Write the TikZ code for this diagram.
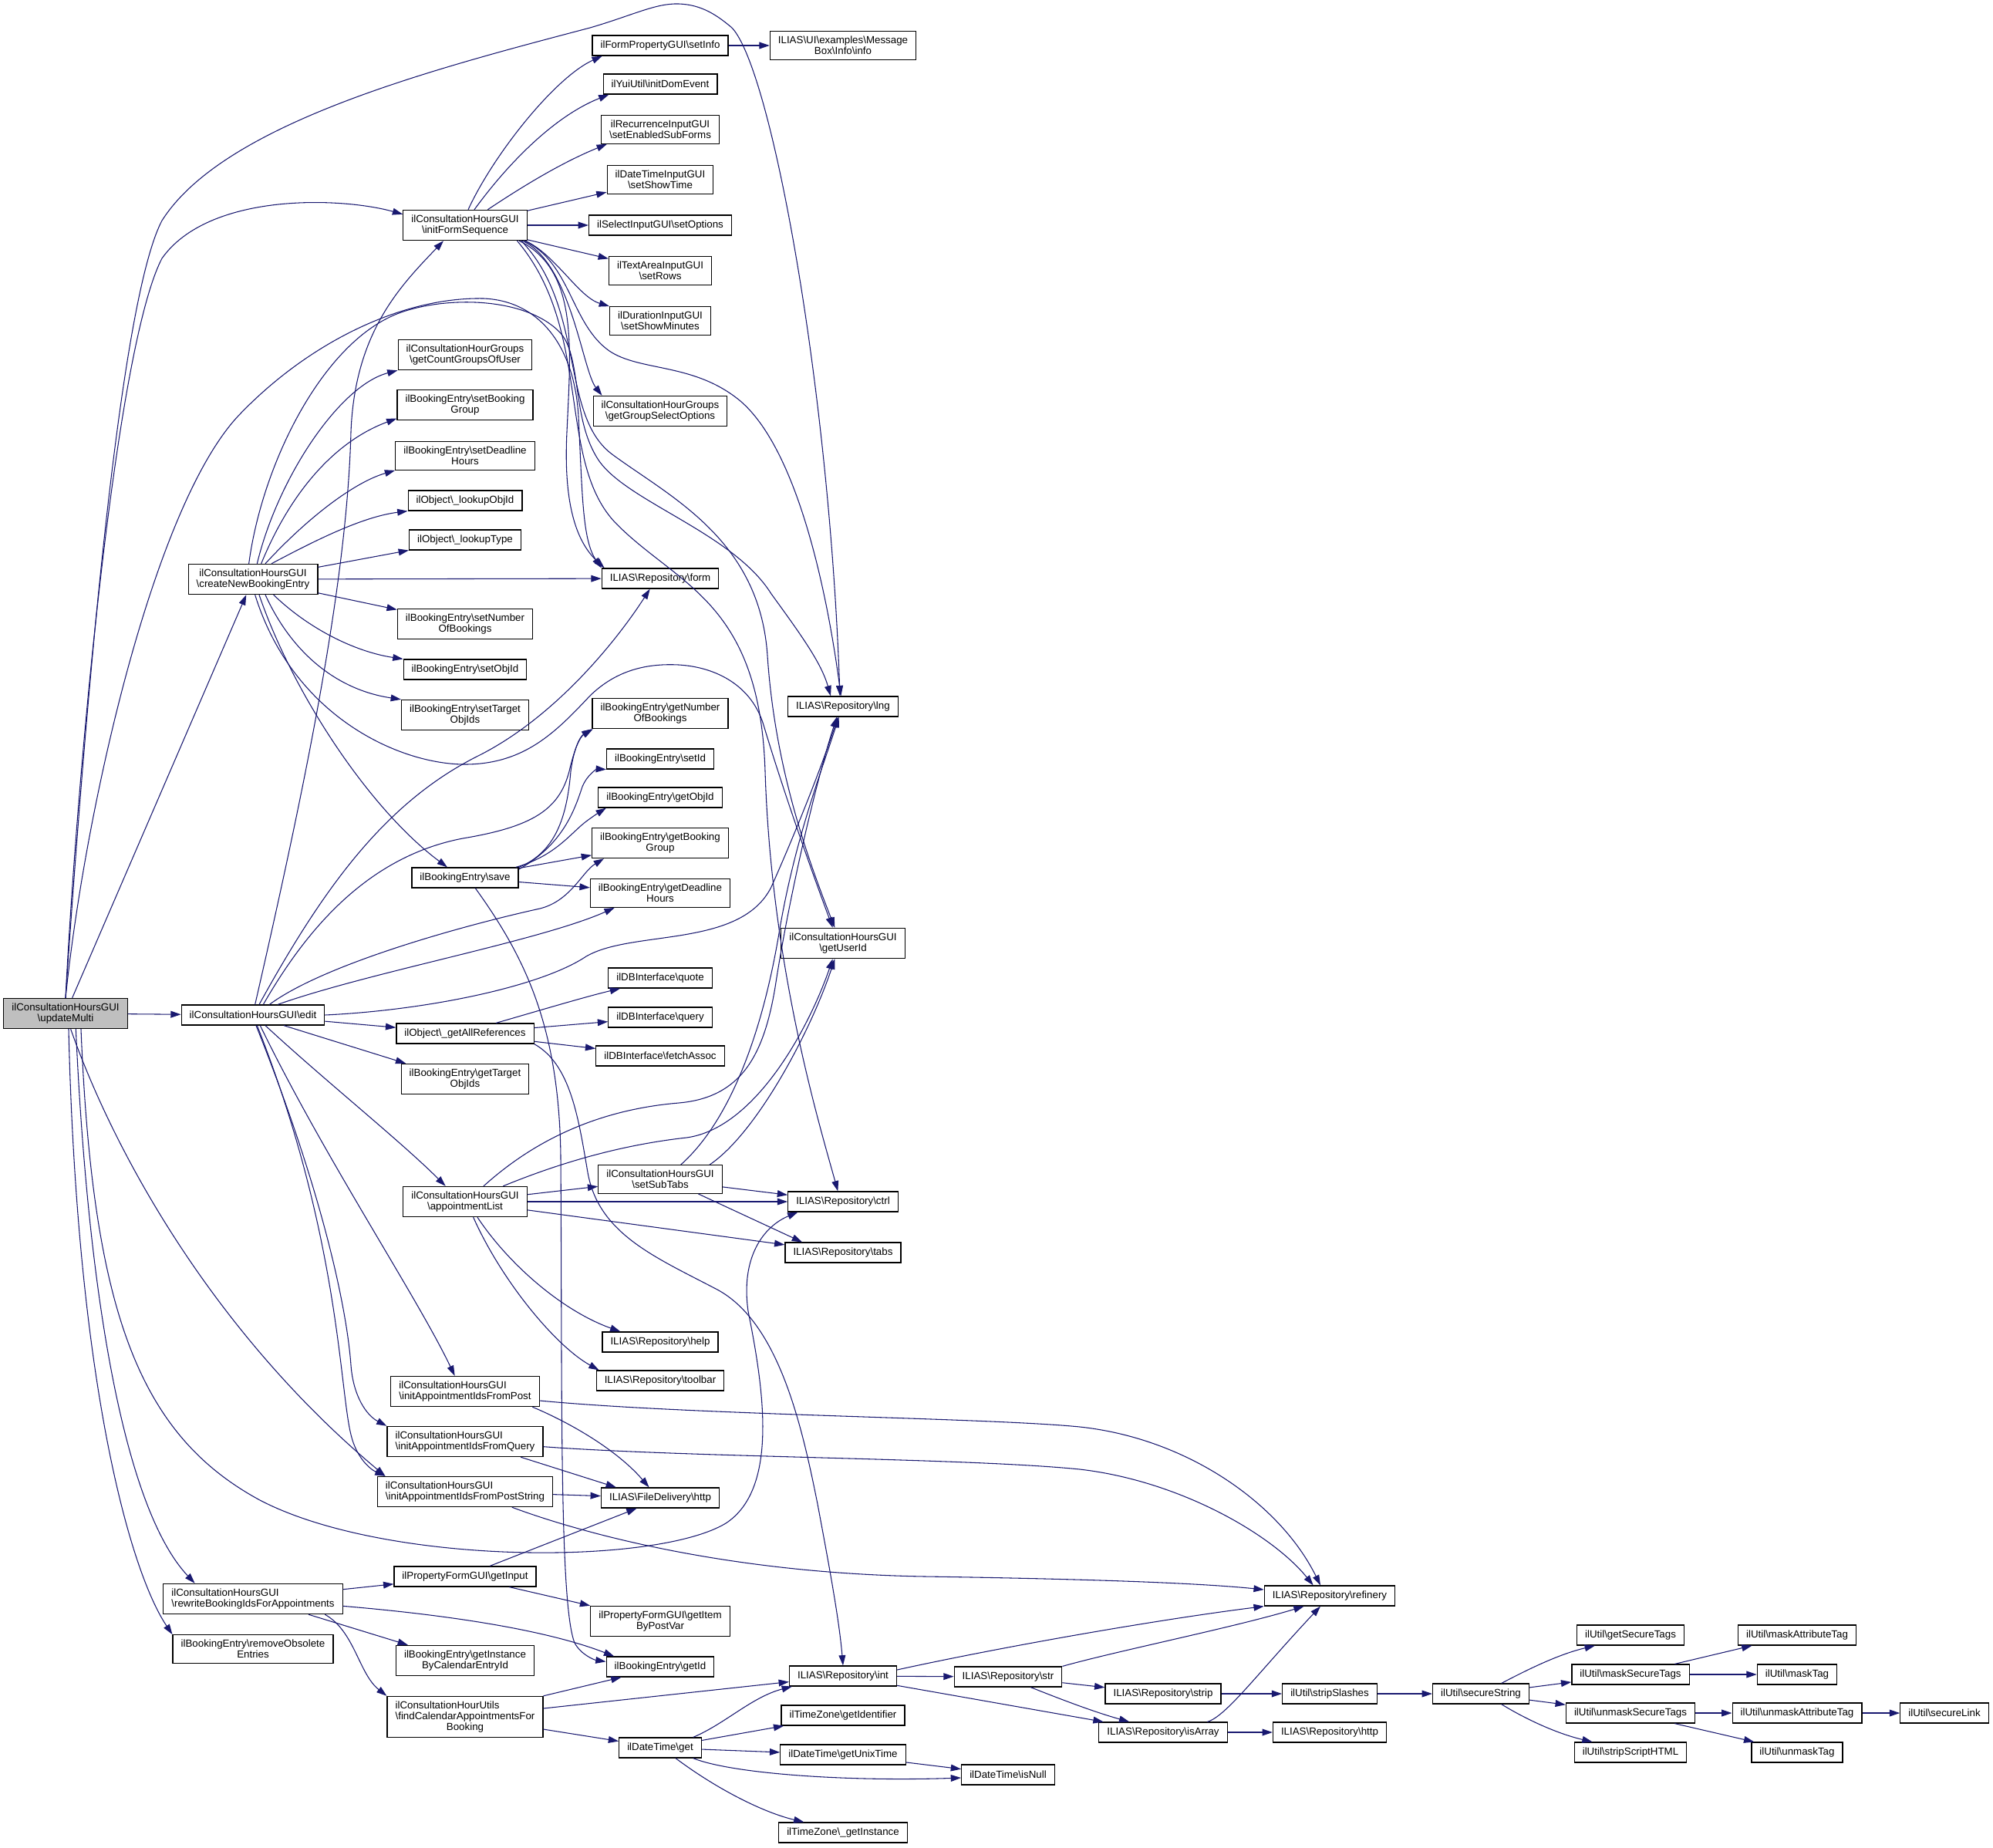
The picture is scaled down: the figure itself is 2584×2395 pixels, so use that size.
\documentclass[tikz,border=0pt]{standalone}
\usepackage{fontspec}
\setmainfont{Liberation Sans}
\usetikzlibrary{arrows.meta}
\definecolor{midnightblue}{RGB}{25,25,112}
\definecolor{grey75}{RGB}{191,191,191}
\newcommand{\bksl}{\textbackslash}
\tikzset{
  fn/.style={draw=black, line width=0.9pt, fill=white, font=\fontsize{10}{10.5}\selectfont,
    inner xsep=7.9pt, inner ysep=4.8pt, minimum height=19.5pt, align=center},
  fnl/.style={fn, align=left},
  call/.style={draw=midnightblue, line width=0.8pt, -{Triangle[length=10pt,width=6.6pt]}}
}
\begin{document}
\begin{tikzpicture}[x=0.75pt, y=-0.75pt]
    \useasboundingbox (0,0) rectangle (2584,2395);
    \node[fn, fill=grey75] (updateMulti) at (85,1314) {ilConsultationHoursGUI\\\bksl updateMulti};
    \node[fn] (createNew) at (328,751) {ilConsultationHoursGUI\\\bksl createNewBookingEntry};
    \node[fn] (edit) at (328,1316) {ilConsultationHoursGUI\bksl edit};
    \node[fnl] (rewrite) at (328,2073) {ilConsultationHoursGUI\\\bksl rewriteBookingIdsForAppointments};
    \node[fn] (removeObs) at (328,2138) {ilBookingEntry\bksl removeObsolete\\Entries};
    \node[fn] (initForm) at (603,292) {ilConsultationHoursGUI\\\bksl initFormSequence};
    \node[fn] (countGroups) at (603,460) {ilConsultationHourGroups\\\bksl getCountGroupsOfUser};
    \node[fn] (setBookGroup) at (603,525) {ilBookingEntry\bksl setBooking\\Group};
    \node[fn] (setDeadline) at (603,591) {ilBookingEntry\bksl setDeadline\\Hours};
    \node[fn] (lookupObjId) at (603,649) {ilObject\bksl\_lookupObjId};
    \node[fn] (lookupType) at (603,700) {ilObject\bksl\_lookupType};
    \node[fn] (setNumBook) at (603,809) {ilBookingEntry\bksl setNumber\\OfBookings};
    \node[fn] (setObjId) at (603,868) {ilBookingEntry\bksl setObjId};
    \node[fn] (setTarget) at (603,927) {ilBookingEntry\bksl setTarget\\ObjIds};
    \node[fn] (save) at (603,1138) {ilBookingEntry\bksl save};
    \node[fn] (getAllRefs) at (603,1340) {ilObject\bksl\_getAllReferences};
    \node[fn] (getTarget) at (603,1399) {ilBookingEntry\bksl getTarget\\ObjIds};
    \node[fn] (apptList) at (603,1558) {ilConsultationHoursGUI\\\bksl appointmentList};
    \node[fnl] (idsPost) at (603,1804) {ilConsultationHoursGUI\\\bksl initAppointmentIdsFromPost};
    \node[fnl] (idsQuery) at (603,1869) {ilConsultationHoursGUI\\\bksl initAppointmentIdsFromQuery};
    \node[fnl] (idsPostStr) at (603,1934) {ilConsultationHoursGUI\\\bksl initAppointmentIdsFromPostString};
    \node[fn] (getInput) at (603,2044) {ilPropertyFormGUI\bksl getInput};
    \node[fn] (getInstance) at (603,2153) {ilBookingEntry\bksl getInstance\\ByCalendarEntryId};
    \node[fn] (findAppts) at (603,2226) {\rlap{ilConsultationHourUtils}\phantom{\bksl findCalendarAppointmentsFor}\\\bksl findCalendarAppointmentsFor\\Booking};
    \node[fn] (setInfo) at (856,59) {ilFormPropertyGUI\bksl setInfo};
    \node[fn] (initDom) at (856,109) {ilYuiUtil\bksl initDomEvent};
    \node[fn] (setEnabled) at (856,168) {ilRecurrenceInputGUI\\\bksl setEnabledSubForms};
    \node[fn] (setShowTime) at (856,233) {ilDateTimeInputGUI\\\bksl setShowTime};
    \node[fn] (setOptions) at (856,292) {ilSelectInputGUI\bksl setOptions};
    \node[fn] (setRows) at (856,351) {ilTextAreaInputGUI\\\bksl setRows};
    \node[fn] (setShowMin) at (856,416) {ilDurationInputGUI\\\bksl setShowMinutes};
    \node[fn] (groupOptions) at (856,533) {ilConsultationHourGroups\\\bksl getGroupSelectOptions};
    \node[fn] (form) at (856,750) {ILIAS\bksl Repository\bksl form};
    \node[fn] (getNumBook) at (856,925) {ilBookingEntry\bksl getNumber\\OfBookings};
    \node[fn] (setId) at (856,984) {ilBookingEntry\bksl setId};
    \node[fn] (getObjId) at (856,1034) {ilBookingEntry\bksl getObjId};
    \node[fn] (getBookGroup) at (856,1093) {ilBookingEntry\bksl getBooking\\Group};
    \node[fn] (getDeadline) at (856,1158) {ilBookingEntry\bksl getDeadline\\Hours};
    \node[fn] (dbQuote) at (856,1268) {ilDBInterface\bksl quote};
    \node[fn] (dbQuery) at (856,1319) {ilDBInterface\bksl query};
    \node[fn] (dbFetch) at (856,1369) {ilDBInterface\bksl fetchAssoc};
    \node[fn] (setSubTabs) at (856,1529) {ilConsultationHoursGUI\\\bksl setSubTabs};
    \node[fn] (help) at (856,1740) {ILIAS\bksl Repository\bksl help};
    \node[fn] (toolbar) at (856,1790) {ILIAS\bksl Repository\bksl toolbar};
    \node[fn] (fdHttp) at (856,1942) {ILIAS\bksl FileDelivery\bksl http};
    \node[fn] (getItem) at (856,2102) {ilPropertyFormGUI\bksl getItem\\ByPostVar};
    \node[fn] (getId) at (856,2161) {ilBookingEntry\bksl getId};
    \node[fn] (dtGet) at (856,2266) {ilDateTime\bksl get};
    \node[fn] (msgInfo) at (1093,59) {ILIAS\bksl UI\bksl examples\bksl Message\\Box\bksl Info\bksl info};
    \node[fn] (lng) at (1093,916) {ILIAS\bksl Repository\bksl lng};
    \node[fn] (getUserId) at (1093,1223) {ilConsultationHoursGUI\\\bksl getUserId};
    \node[fn] (ctrl) at (1093,1558) {ILIAS\bksl Repository\bksl ctrl};
    \node[fn] (tabs) at (1093,1624) {ILIAS\bksl Repository\bksl tabs};
    \node[fn] (repInt) at (1093,2173) {ILIAS\bksl Repository\bksl int};
    \node[fn] (tzIdent) at (1093,2224) {ilTimeZone\bksl getIdentifier};
    \node[fn] (unixTime) at (1093,2275) {ilDateTime\bksl getUnixTime};
    \node[fn] (tzInstance) at (1093,2376) {ilTimeZone\bksl\_getInstance};
    \node[fn] (repStr) at (1307,2174) {ILIAS\bksl Repository\bksl str};
    \node[fn] (isNull) at (1307,2301) {ilDateTime\bksl isNull};
    \node[fn] (strip) at (1508,2196) {ILIAS\bksl Repository\bksl strip};
    \node[fn] (isArray) at (1508,2246) {ILIAS\bksl Repository\bksl isArray};
    \node[fn] (refinery) at (1724,2069) {ILIAS\bksl Repository\bksl refinery};
    \node[fn] (stripSlashes) at (1724,2196) {ilUtil\bksl stripSlashes};
    \node[fn] (repHttp) at (1724,2246) {ILIAS\bksl Repository\bksl http};
    \node[fn] (secureString) at (1920,2196) {ilUtil\bksl secureString};
    \node[fn] (getSecTags) at (2114,2120) {ilUtil\bksl getSecureTags};
    \node[fn] (maskSecTags) at (2114,2171) {ilUtil\bksl maskSecureTags};
    \node[fn] (unmaskSecTags) at (2114,2221) {ilUtil\bksl unmaskSecureTags};
    \node[fn] (stripScript) at (2114,2272) {ilUtil\bksl stripScriptHTML};
    \node[fn] (maskAttr) at (2330,2120) {ilUtil\bksl maskAttributeTag};
    \node[fn] (maskTag) at (2330,2171) {ilUtil\bksl maskTag};
    \node[fn] (unmaskAttr) at (2330,2221) {ilUtil\bksl unmaskAttributeTag};
    \node[fn] (unmaskTag) at (2330,2272) {ilUtil\bksl unmaskTag};
    \node[fn] (secureLink) at (2521,2221) {ilUtil\bksl secureLink};

    \draw[call] (updateMulti.north) .. controls (100,1000) and (150,450) .. (210,335) .. controls (270,250) and (440,255) .. (initForm.170);
    \draw[call] (updateMulti.north) .. controls (105,1000) and (150,400) .. (210,286) .. controls (290,160) and (560,90) .. (765,36) .. controls (820,20) and (850,4) .. (880,5) .. controls (910,6) and (930,20) .. (949,36) .. controls (1000,90) and (1075,500) .. ([xshift=-3pt]lng.north);
    \draw[call] (updateMulti) -- (createNew);
    \draw[call] (updateMulti) -- (edit);
    \draw[call] (updateMulti.north) .. controls (110,1050) and (200,650) .. (312,536) .. controls (400,445) and (520,385) .. (627,387) .. controls (700,390) and (745,450) .. (750,540) .. controls (755,640) and (755,700) .. (form.north west);
    \draw[call] ([xshift=5pt]updateMulti.south) .. controls (150,1500) and (280,1730) .. ([xshift=8pt]idsPostStr.north west);
    \draw[call] ([xshift=10pt]updateMulti.south) .. controls (115,1700) and (165,1960) .. ([xshift=31pt]rewrite.north west);
    \draw[call] ([xshift=3pt]updateMulti.south) .. controls (100,1800) and (170,2040) .. (removeObs.north west);
    \draw[call] ([xshift=15pt]updateMulti.south) .. controls (120,1700) and (180,1860) .. (337,1945) .. controls (500,2030) and (850,2030) .. (941,1975) .. controls (1010,1930) and (990,1800) .. (970,1700) .. controls (960,1630) and (990,1590) .. ([xshift=10pt]ctrl.south west);

    \draw[call] ([xshift=4pt]createNew.north) .. controls (360,620) and (440,500) .. (countGroups.south west);
    \draw[call] ([xshift=8pt]createNew.north) .. controls (380,630) and (440,570) .. ([yshift=2pt]setBookGroup.south west);
    \draw[call] ([xshift=12pt]createNew.north) .. controls (400,670) and (460,625) .. (setDeadline.south west);
    \draw[call] ([xshift=18pt]createNew.north) .. controls (410,700) and (470,670) .. (lookupObjId.south west);
    \draw[call] (createNew) -- (lookupType);
    \draw[call] (createNew) -- (form);
    \draw[call] (createNew) -- (setNumBook);
    \draw[call] ([xshift=20pt]createNew.south) .. controls (400,815) and (460,845) .. (setObjId.north west);
    \draw[call] ([xshift=12pt]createNew.south) .. controls (380,850) and (440,895) .. (setTarget.north west);
    \draw[call] ([xshift=6pt]createNew.south) .. controls (380,900) and (480,1050) .. ([xshift=35pt]save.north west);
    \draw[call] ([xshift=2pt]createNew.south) .. controls (380,930) and (520,992) .. (605,991) .. controls (680,990) and (720,950) .. (765,902) .. controls (800,868) and (840,860) .. (880,862) .. controls (930,865) and (975,890) .. (990,940) .. controls (1020,1040) and (1060,1150) .. ([xshift=-10pt]getUserId.north);
    \draw[call] ([xshift=-4pt]createNew.north) .. controls (340,600) and (420,440) .. (520,405) .. controls (580,384) and (680,385) .. (725,430) .. controls (755,460) and (740,540) .. (775,595) .. controls (810,650) and (950,690) .. (1000,770) .. controls (1040,825) and (1065,860) .. ([xshift=-12pt]lng.north);

    \draw[call] ([xshift=3pt]initForm.north) .. controls (640,200) and (720,100) .. ([xshift=10pt]setInfo.south west);
    \draw[call] ([xshift=9pt]initForm.north) .. controls (660,210) and (720,150) .. ([xshift=6pt]initDom.south west);
    \draw[call] ([xshift=22pt]initForm.north) .. controls (680,240) and (730,210) .. ([xshift=6pt]setEnabled.south west);
    \draw[call] (initForm) -- (setShowTime);
    \draw[call] (initForm) -- (setOptions);
    \draw[call] (initForm) -- (setRows);
    \draw[call] ([xshift=-2pt]initForm.south east) .. controls (720,330) and (750,385) .. (setShowMin.north west);
    \draw[call] ([xshift=-5pt]initForm.south east) .. controls (740,340) and (755,480) .. ([xshift=9pt]groupOptions.north west);
    \draw[call] ([xshift=-8pt]initForm.south east) .. controls (750,350) and (740,450) .. (735,560) .. controls (730,660) and (750,705) .. ([xshift=3pt]form.north west);
    \draw[call] ([xshift=-3pt]initForm.south east) .. controls (740,340) and (740,420) .. (790,455) .. controls (830,482) and (900,470) .. (960,520) .. controls (1030,580) and (1070,750) .. ([xshift=-2pt]lng.north);
    \draw[call] ([xshift=-6pt]initForm.south east) .. controls (760,400) and (725,540) .. (795,590) .. controls (870,645) and (985,700) .. (995,850) .. controls (1005,1000) and (1050,1120) .. ([xshift=-8pt]getUserId.north);
    \draw[call] ([xshift=-10pt]initForm.south east) .. controls (770,430) and (720,600) .. (800,680) .. controls (880,760) and (985,780) .. (992,1000) .. controls (1000,1250) and (1060,1450) .. ([xshift=-5pt]ctrl.north);

    \draw[call] ([xshift=2pt]edit.north) .. controls (400,1000) and (450,750) .. (455,560) .. controls (460,430) and (520,370) .. ([xshift=-21pt]initForm.south);
    \draw[call] ([xshift=6pt]edit.north) .. controls (420,1150) and (500,1040) .. (620,980) .. controls (720,930) and (800,830) .. ([xshift=-10pt]form.south);
    \draw[call] ([xshift=10pt]edit.north) .. controls (400,1200) and (480,1110) .. (600,1087) .. controls (690,1072) and (725,1050) .. (738,1000) .. controls (745,970) and (752,955) .. ([xshift=1pt]getNumBook.south west);
    \draw[call] ([xshift=16pt]edit.north) .. controls (420,1250) and (600,1200) .. (700,1178) .. controls (740,1168) and (755,1130) .. ([xshift=12pt]getBookGroup.south west);
    \draw[call] ([xshift=24pt]edit.north) .. controls (480,1260) and (700,1220) .. ([xshift=24pt]getDeadline.south west);
    \draw[call] (edit.east) .. controls (550,1310) and (700,1280) .. (760,1240) .. controls (820,1205) and (960,1230) .. (1000,1150) .. controls (1040,1060) and (1070,980) .. ([xshift=-5pt]lng.south);
    \draw[call] (edit) -- (getAllRefs);
    \draw[call] ([xshift=30pt]edit.south) -- ([xshift=5pt]getTarget.north west);
    \draw[call] ([xshift=12pt]edit.south) .. controls (420,1400) and (520,1480) .. ([xshift=-19pt]apptList.north);
    \draw[call] ([xshift=7pt]edit.south) .. controls (420,1500) and (540,1680) .. ([xshift=-10pt]idsPost.north);
    \draw[call] ([xshift=3pt]edit.south) .. controls (420,1550) and (450,1700) .. (455,1770) .. controls (458,1810) and (475,1835) .. (idsQuery.north west);
    \draw[call] ([xshift=4pt]edit.south) .. controls (440,1600) and (440,1800) .. (455,1860) .. controls (462,1890) and (480,1905) .. ([xshift=8pt]idsPostStr.north west);

    \draw[call] (save.north east) .. controls (720,1105) and (735,1060) .. (740,1000) .. controls (744,970) and (752,955) .. (getNumBook.south west);
    \draw[call] ([yshift=-2pt]save.north east) .. controls (730,1095) and (745,1050) .. (755,1020) .. controls (762,1003) and (775,997) .. (setId.south west);
    \draw[call] ([xshift=-3pt]save.north east) .. controls (720,1110) and (740,1080) .. (760,1065) .. controls (772,1056) and (782,1050) .. ([xshift=8pt]getObjId.south west);
    \draw[call] (save) -- (getBookGroup);
    \draw[call] (save) -- (getDeadline);
    \draw[call] ([xshift=10pt]save.south) .. controls (680,1240) and (725,1330) .. (727,1500) .. controls (729,1800) and (725,2080) .. (745,2130) .. controls (753,2145) and (770,2152) .. ([yshift=5pt]getId.west);

    \draw[call] ([xshift=30pt]getAllRefs.north) .. controls (700,1310) and (760,1292) .. ([xshift=12pt]dbQuote.south west);
    \draw[call] (getAllRefs) -- (dbQuery);
    \draw[call] (getAllRefs) -- (dbFetch);
    \draw[call] (getAllRefs.south east) .. controls (740,1380) and (750,1450) .. (762,1520) .. controls (776,1600) and (850,1630) .. (930,1672) .. controls (1010,1715) and (1040,1850) .. (1060,1950) .. controls (1075,2030) and (1088,2100) .. (repInt.north);

    \draw[call] (apptList) -- (setSubTabs);
    \draw[call] (apptList) -- (ctrl);
    \draw[call] (apptList) -- (tabs);
    \draw[call] ([xshift=12pt]apptList.south) .. controls (660,1640) and (730,1700) .. ([xshift=18pt]help.north west);
    \draw[call] ([xshift=8pt]apptList.south) .. controls (650,1660) and (720,1745) .. ([xshift=3pt]toolbar.north west);
    \draw[call] ([xshift=18pt]apptList.north) .. controls (680,1490) and (760,1440) .. (880,1430) .. controls (960,1423) and (990,1370) .. (1005,1280) .. controls (1025,1150) and (1062,1000) .. ([xshift=-6pt]lng.south);
    \draw[call] ([xshift=37pt]apptList.north) .. controls (720,1510) and (800,1485) .. (890,1475) .. controls (980,1463) and (1050,1330) .. ([xshift=-10pt]getUserId.south);

    \draw[call] ([xshift=20pt]setSubTabs.north) .. controls (950,1450) and (990,1330) .. (1010,1210) .. controls (1030,1090) and (1065,1000) .. ([xshift=-4pt]lng.south);
    \draw[call] ([xshift=48pt]setSubTabs.north) .. controls (980,1470) and (1050,1340) .. ([xshift=-8pt]getUserId.south);
    \draw[call] (setSubTabs) -- (ctrl);
    \draw[call] ([xshift=37pt]setSubTabs.south) -- ([xshift=17pt]tabs.north west);
    \draw[call] (setInfo) -- (msgInfo);

    \draw[call] ([xshift=-7pt]idsPost.south east) .. controls (740,1845) and (800,1880) .. ([xshift=47pt]fdHttp.north west);
    \draw[call] ([yshift=-9pt]idsPost.east) .. controls (900,1835) and (1280,1838) .. (1400,1850) .. controls (1540,1865) and (1660,1950) .. ([xshift=-9pt]refinery.north);
    \draw[call] ([xshift=-22pt]idsQuery.south east) -- ([xshift=15pt]fdHttp.north west);
    \draw[call] ([yshift=-5pt]idsQuery.east) .. controls (900,1890) and (1250,1890) .. (1400,1905) .. controls (1530,1920) and (1650,1990) .. ([xshift=-16pt]refinery.north);
    \draw[call] (idsPostStr) -- (fdHttp);
    \draw[call] ([xshift=-40pt]idsPostStr.south east) .. controls (760,1990) and (950,2040) .. (1200,2044) .. controls (1400,2047) and (1550,2052) .. ([yshift=6pt]refinery.west);

    \draw[call] (rewrite) -- (getInput);
    \draw[call] ([yshift=-7pt]rewrite.east) .. controls (560,2092) and (700,2110) .. ([xshift=8pt]getId.north west);
    \draw[call] ([xshift=54pt]rewrite.south) -- ([xshift=12pt]getInstance.north west);
    \draw[call] ([xshift=70pt]rewrite.south) .. controls (460,2115) and (465,2170) .. (findAppts.north west);
    \draw[call] ([xshift=24pt]getInput.north) -- ([xshift=35pt]fdHttp.south west);
    \draw[call] ([xshift=43pt]getInput.south) -- (getItem.north west);

    \draw[call] (findAppts.north east) -- ([xshift=15pt]getId.south west);
    \draw[call] (findAppts) -- (repInt);
    \draw[call] (findAppts) -- (dtGet);
    \draw[call] ([xshift=32pt]dtGet.north) .. controls (940,2235) and (975,2200) .. ([xshift=3pt]repInt.south west);
    \draw[call] (dtGet) -- (tzIdent);
    \draw[call] (dtGet) -- (unixTime);
    \draw[call] ([xshift=32pt]dtGet.south) .. controls (950,2300) and (1100,2310) .. ([yshift=-3pt]isNull.west);
    \draw[call] ([xshift=15pt]dtGet.south) .. controls (930,2320) and (990,2350) .. ([xshift=25pt]tzInstance.north west);
    \draw[call] (unixTime) -- (isNull);

    \draw[call] ([yshift=6pt]repInt.east) .. controls (1300,2135) and (1500,2100) .. (refinery.south west);
    \draw[call] (repInt) -- (repStr);
    \draw[call] (repInt) -- (isArray);
    \draw[call] (repStr.north east) .. controls (1450,2140) and (1600,2110) .. ([xshift=-25pt]refinery.south);
    \draw[call] (repStr) -- (strip);
    \draw[call] ([xshift=22pt]repStr.south) .. controls (1380,2205) and (1420,2220) .. ([xshift=30pt]isArray.north west);
    \draw[call] ([xshift=43pt]isArray.north) .. controls (1590,2225) and (1630,2170) .. ([xshift=-9pt]refinery.south);
    \draw[call] (isArray) -- (repHttp);
    \draw[call] (strip) -- (stripSlashes);
    \draw[call] (stripSlashes) -- (secureString);

    \draw[call] ([xshift=20pt]secureString.north) .. controls (1980,2165) and (2020,2145) .. ([xshift=18pt]getSecTags.south west);
    \draw[call] (secureString) -- (maskSecTags);
    \draw[call] (secureString) -- (unmaskSecTags);
    \draw[call] ([xshift=20pt]secureString.south) .. controls (1980,2230) and (2020,2248) .. ([xshift=18pt]stripScript.north west);
    \draw[call] ([xshift=43pt]maskSecTags.north) -- ([xshift=14pt]maskAttr.south west);
    \draw[call] (maskSecTags) -- (maskTag);
    \draw[call] (unmaskSecTags) -- (unmaskAttr);
    \draw[call] ([xshift=43pt]unmaskSecTags.south) -- ([xshift=3pt]unmaskTag.north west);
    \draw[call] (unmaskAttr) -- (secureLink);
\end{tikzpicture}
\end{document}
